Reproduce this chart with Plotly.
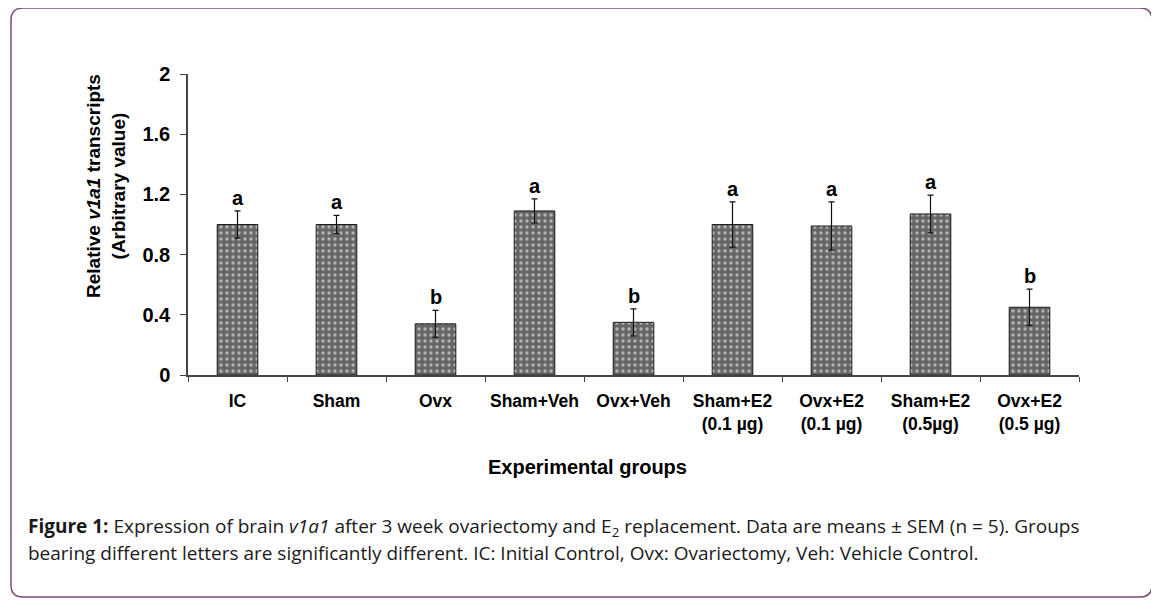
import plotly.graph_objects as go

categories = ["IC", "Sham", "Ovx", "Sham+Veh", "Ovx+Veh",
              "Sham+E2<br>(0.1 µg)", "Ovx+E2<br>(0.1 µg)",
              "Sham+E2<br>(0.5µg)", "Ovx+E2<br>(0.5 µg)"]
means = [1.00, 1.00, 0.34, 1.09, 0.35, 1.00, 0.99, 1.07, 0.45]
sem = [0.09, 0.06, 0.09, 0.08, 0.09, 0.15, 0.16, 0.125, 0.12]
letters = ["a", "a", "b", "a", "b", "a", "a", "a", "b"]
ytick_vals = [0, 0.4, 0.8, 1.2, 1.6, 2]
ytick_text = ["0", "0.4", "0.8", "1.2", "1.6", "2"]

OFF = 8  # page body margin
W, H = 1159 - OFF, 607 - OFF
L, R, T, B = 188, 1079, 74, 375  # plot area in screen pixels


def xp(px):
    return (px - L) / (R - L)


def yp(py):
    return (B - py) / (B - T)


fig = go.Figure()
fig.add_trace(go.Bar(
    x=categories, y=means,
    width=0.41,
    marker=dict(
        color="#666666",
        line=dict(color="#1a1a1a", width=1),
        pattern=dict(shape=".", fgcolor="white", size=6, solidity=0.25,
                     fillmode="overlay"),
    ),
    error_y=dict(type="data", array=sem, visible=True, color="#111111",
                 thickness=1.2, width=3),
    showlegend=False,
))

annotations = []
for c, m, s, t in zip(categories, means, sem, letters):
    annotations.append(dict(
        x=c, y=m + s, xref="x", yref="y", text=t, showarrow=False,
        yanchor="middle", yshift=13,
        font=dict(family="Liberation Sans", size=20, color="black", weight="bold"),
    ))

# y-axis title
annotations.append(dict(
    x=xp(106), y=yp(186), xref="paper", yref="paper",
    text="Relative <i>v1a1</i> transcripts<br>(Arbitrary value)",
    textangle=-90, showarrow=False, xanchor="center", yanchor="middle",
    font=dict(family="Liberation Sans", size=19, color="black", weight="bold"),
))
# x-axis title
annotations.append(dict(
    x=xp(587), y=yp(467), xref="paper", yref="paper",
    text="Experimental groups", showarrow=False,
    xanchor="center", yanchor="middle",
    font=dict(family="Liberation Sans", size=20, color="black", weight="bold"),
))
# caption
cap_font = dict(family="Open Sans", size=19, color="#1a1a1a")
annotations.append(dict(
    x=xp(26), y=yp(527), xref="paper", yref="paper",
    text="<b>Figure 1:</b> Expression of brain <i>v1a1</i> after 3 week ovariectomy and E<sub>2</sub> replacement. Data are means ± SEM (n = 5). Groups",
    showarrow=False, xanchor="left", yanchor="middle", align="left", font=cap_font,
))
annotations.append(dict(
    x=xp(26), y=yp(553), xref="paper", yref="paper",
    text="bearing different letters are significantly different. IC: Initial Control, Ovx: Ovariectomy, Veh: Vehicle Control.",
    showarrow=False, xanchor="left", yanchor="middle", align="left", font=cap_font,
))

# rounded border
x0, x1, y0, y1, r = 11, 1152, 8, 597, 12
path = (f"M {xp(x0 + r)},{yp(y0)} L {xp(x1 - r)},{yp(y0)} "
        f"Q {xp(x1)},{yp(y0)} {xp(x1)},{yp(y0 + r)} "
        f"L {xp(x1)},{yp(y1 - r)} Q {xp(x1)},{yp(y1)} {xp(x1 - r)},{yp(y1)} "
        f"L {xp(x0 + r)},{yp(y1)} Q {xp(x0)},{yp(y1)} {xp(x0)},{yp(y1 - r)} "
        f"L {xp(x0)},{yp(y0 + r)} Q {xp(x0)},{yp(y0)} {xp(x0 + r)},{yp(y0)} Z")

fig.update_layout(
    width=W, height=H,
    margin=dict(l=L - OFF, r=(W + OFF) - R, t=T - OFF, b=(H + OFF) - B,
                autoexpand=False),
    paper_bgcolor="white", plot_bgcolor="white",
    annotations=annotations,
    shapes=[dict(type="path", path=path, xref="paper", yref="paper",
                 line=dict(color="#7d4a7d", width=1.5), layer="below")],
    xaxis=dict(
        showline=True, linecolor="#444444", linewidth=1.5,
        ticks="outside", tickson="boundaries", ticklen=5, tickcolor="#444444",
        tickwidth=1, showgrid=False, zeroline=False, tickangle=0,
        tickfont=dict(family="Liberation Sans", size=17.5, color="black", weight="bold"),
        ticklabelstandoff=9,
    ),
    yaxis=dict(
        range=[0, 2], showline=True, linecolor="#444444", linewidth=1.5,
        ticks="outside", ticklen=6, tickcolor="#444444", tickwidth=1,
        tickvals=ytick_vals, ticktext=ytick_text,
        showgrid=False, zeroline=False,
        tickfont=dict(family="Liberation Sans", size=20, color="black", weight="bold"),
        ticklabelstandoff=6,
    ),
)

fig.write_html("out.html")
